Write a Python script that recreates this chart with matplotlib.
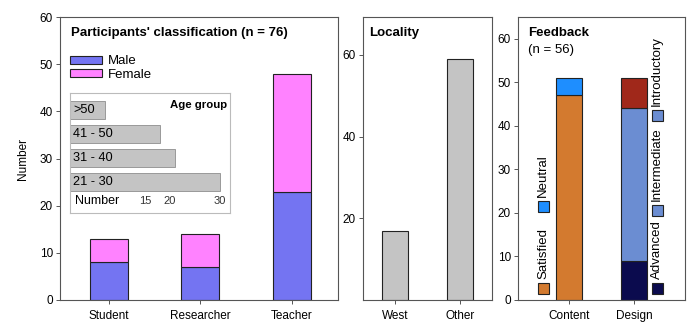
import matplotlib
matplotlib.use("Agg")
import matplotlib.pyplot as plt
from matplotlib.patches import Rectangle

plt.rcParams['font.family'] = ['Liberation Sans', 'DejaVu Sans']
plt.rcParams['font.size'] = 8

# ---- data ----
roles = ["Student", "Researcher", "Teacher"]
male = [8, 7, 23]
female = [5, 7, 25]

age_groups = ["21 - 30", "31 - 40", "41 - 50", ">50"]
age_counts = [30, 21, 18, 7]
age_ticks = [15, 20, 30]

localities = ["West", "Other"]
locality_counts = [17, 59]

feedback_cats = ["Content", "Design"]
satisfied = [47, 0]
neutral = [4, 0]
advanced = [0, 9]
intermediate = [0, 35]
introductory = [0, 7]

C_MALE = "#7474F2"
C_FEMALE = "#FF82FF"
C_GRAY = "#C4C4C4"
C_SAT = "#D37A2F"
C_NEU = "#1E8EFF"
C_ADV = "#0B0B4E"
C_INT = "#6B8DD2"
C_INTRO = "#A0281A"
EDGE = "#222222"
SPINE = "#555555"

TITLE_FS = 9.5
LEG_FS = 9.5

W, H = 691, 326
fig = plt.figure(figsize=(W / 100, H / 100), dpi=100)


def axbox(x0, y0, x1, y1):
    return [x0 / W, 1 - y1 / H, (x1 - x0) / W, (y1 - y0) / H]


def style(ax):
    for s in ax.spines.values():
        s.set_color(SPINE)
        s.set_linewidth(0.8)
    ax.tick_params(axis='both', direction='out', length=3, width=0.7,
                   color=SPINE, labelsize=8.5, pad=2)
    ax.tick_params(axis='x', pad=4)


# ---- panel 1 ----
ax1 = fig.add_axes(axbox(60, 17, 338, 300))
style(ax1)
x = list(range(len(roles)))
ax1.bar(x, male, width=0.415, color=C_MALE, edgecolor=EDGE, linewidth=0.8, label="Male")
ax1.bar(x, female, width=0.415, bottom=male, color=C_FEMALE, edgecolor=EDGE,
        linewidth=0.8, label="Female")
ax1.set_xlim(-0.53, 2.5)
ax1.set_ylim(0, 60)
ax1.set_xticks(x)
ax1.set_xticklabels(roles)
ax1.set_yticks([0, 10, 20, 30, 40, 50, 60])
ax1.set_ylabel("Number", fontsize=8.5, labelpad=8)
ax1.text(0.04, 0.943, "Participants' classification (n = 76)", transform=ax1.transAxes,
         fontsize=TITLE_FS, fontweight='bold', va='center', ha='left')
ax1.legend(loc='upper left', bbox_to_anchor=(0.036, 0.865), frameon=False,
           handlelength=2.4, handleheight=0.55, fontsize=LEG_FS, borderaxespad=0,
           labelspacing=0.1, handletextpad=0.5, borderpad=0)

# inset age group
axi = fig.add_axes(axbox(70, 93, 230, 213))
for s in axi.spines.values():
    s.set_color("#BBBBBB")
    s.set_linewidth(0.8)
yi = list(range(len(age_groups)))
axi.barh(yi, age_counts, height=0.75, color=C_GRAY, edgecolor="#999999", linewidth=0.7)
axi.set_xlim(0, 32)
axi.set_ylim(-1.29, 3.71)
axi.set_yticks([])
axi.set_xticks(age_ticks)
axi.tick_params(axis='x', direction='in', length=0, labelsize=8, pad=-12, colors="#333333")
for yy, lab in zip(yi, age_groups):
    axi.text(0.6, yy, lab, fontsize=9.2, va='center', ha='left')
axi.text(0.03, 0.05, "Number", transform=axi.transAxes, fontsize=9, va='bottom', ha='left')
axi.text(0.985, 0.9, "Age group", transform=axi.transAxes, fontsize=8.2,
         fontweight='bold', va='center', ha='right')

# ---- panel 2 ----
ax2 = fig.add_axes(axbox(363, 17, 492, 300))
style(ax2)
x2 = list(range(len(localities)))
ax2.bar(x2, locality_counts, width=0.4, color=C_GRAY, edgecolor=EDGE, linewidth=0.8)
ax2.set_xlim(-0.5, 1.5)
ax2.set_ylim(0, 69.3)
ax2.set_yticks([20, 40, 60])
ax2.set_xticks(x2)
ax2.set_xticklabels(localities)
ax2.text(0.045, 0.943, "Locality", transform=ax2.transAxes, fontsize=TITLE_FS,
         fontweight='bold', va='center', ha='left')

# ---- panel 3 ----
ax3 = fig.add_axes(axbox(518, 17, 685, 300))
style(ax3)
x3 = list(range(len(feedback_cats)))
bw = 0.4
ax3.bar(x3[0], satisfied[0], width=bw, color=C_SAT, edgecolor=EDGE, linewidth=0.8)
ax3.bar(x3[0], neutral[0], bottom=satisfied[0], width=bw, color=C_NEU, edgecolor=EDGE, linewidth=0.8)
ax3.bar(x3[1], advanced[1], width=bw, color=C_ADV, edgecolor=EDGE, linewidth=0.8)
ax3.bar(x3[1], intermediate[1], bottom=advanced[1], width=bw, color=C_INT, edgecolor=EDGE, linewidth=0.8)
ax3.bar(x3[1], introductory[1], bottom=advanced[1] + intermediate[1], width=bw,
        color=C_INTRO, edgecolor=EDGE, linewidth=0.8)
ax3.set_xlim(-0.785, 1.78)
ax3.set_ylim(0, 65)
ax3.set_yticks([0, 10, 20, 30, 40, 50, 60])
ax3.set_xticks(x3)
ax3.set_xticklabels(feedback_cats)
ax3.text(0.06, 0.943, "Feedback", transform=ax3.transAxes, fontsize=TITLE_FS,
         fontweight='bold', va='center', ha='left')
ax3.text(0.06, 0.883, "(n = 56)", transform=ax3.transAxes, fontsize=LEG_FS,
         va='center', ha='left')


def vleg(ax, xa, ya, color, label):
    # xa, ya in axes-fraction: patch center
    pw, ph = 11 / 167, 11 / 283
    ax.add_patch(Rectangle((xa - pw / 2, ya - ph / 2), pw, ph, transform=ax.transAxes,
                           facecolor=color, edgecolor=EDGE, linewidth=0.8, clip_on=False))
    ax.text(xa, ya + ph / 2 + 0.012, label, transform=ax.transAxes, rotation=90,
            fontsize=LEG_FS, ha='center', va='bottom')


vleg(ax3, (543 - 518) / 167, (300 - 288) / 283, C_SAT, "Satisfied")
vleg(ax3, (543 - 518) / 167, (300 - 206) / 283, C_NEU, "Neutral")
vleg(ax3, (657 - 518) / 167, (300 - 288) / 283, C_ADV, "Advanced")
vleg(ax3, (657 - 518) / 167, (300 - 210) / 283, C_INT, "Intermediate")
vleg(ax3, (657 - 518) / 167, (300 - 115) / 283, C_INT, "Introductory")

fig.savefig("out.png", dpi=100)
